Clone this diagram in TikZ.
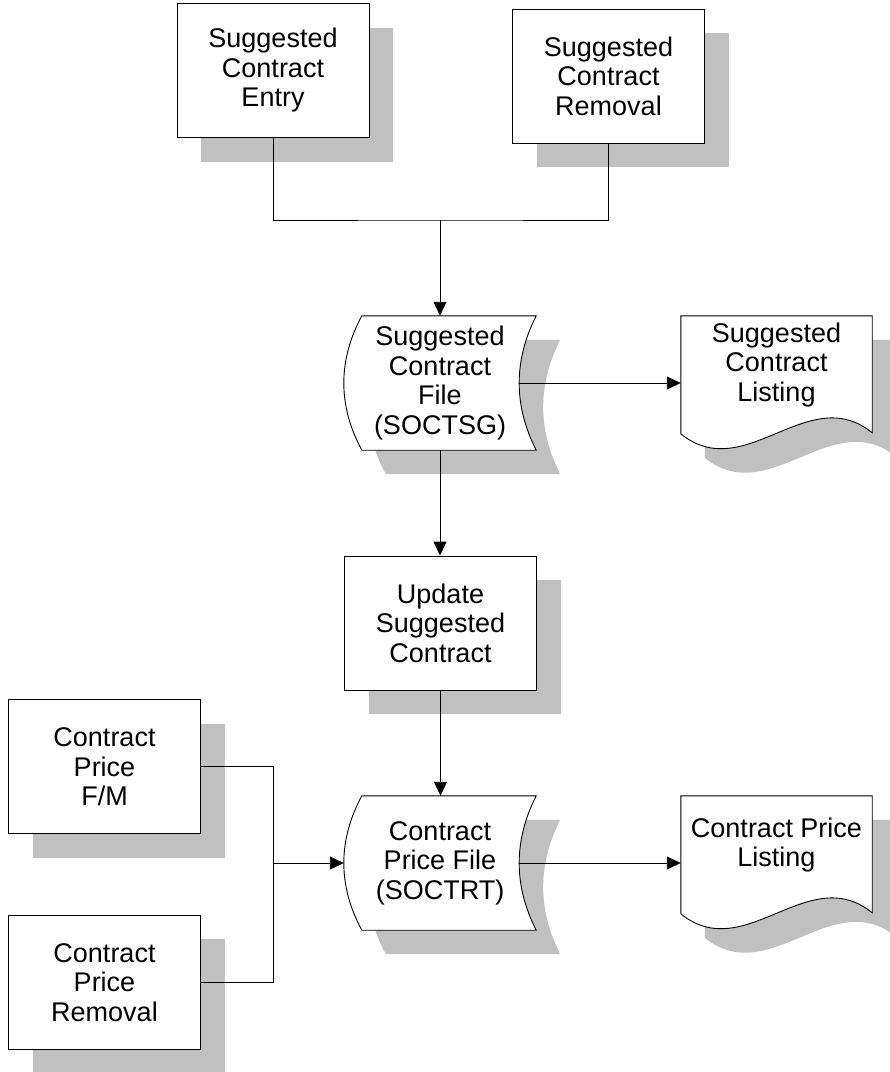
\documentclass[tikz,border=0pt]{standalone}
\usepackage{fontspec}
\setmainfont{Liberation Sans}
\usetikzlibrary{calc,arrows.meta,shadows,backgrounds}
\definecolor{shadowgray}{RGB}{192,192,192}
\tikzset{
  lbl/.style={inner sep=0pt, align=center, font=\fontsize{27}{29.5}\selectfont},
  box/.style={lbl, draw, fill=white, line width=0.9pt, minimum width=192pt, minimum height=134pt,
    drop shadow={shadow xshift=24pt, shadow yshift=-24pt, fill=shadowgray, opacity=1}},
  storebox/.style={lbl, minimum width=192pt, minimum height=134pt},
  docbox/.style={lbl, minimum width=191pt, minimum height=98pt},
  shp/.style={draw, fill=white, line width=0.9pt,
    preaction={draw=none, fill=shadowgray, transform canvas={shift={(24pt,-24pt)}}}},
  conn/.style={line width=0.9pt},
  arr/.style={conn, -{Triangle[length=14pt,width=13pt]}},
}
\begin{document}
\begin{tikzpicture}[x=1pt,y=-1pt]
\useasboundingbox (0,0) rectangle (890,1072);

% nodes
\node[box] (sce) at (273,70.5) {Suggested\\Contract\\Entry};
\node[box] (scr) at (608.5,76.3) {Suggested\\Contract\\Removal};
\node[storebox] (scf) at (440,383) {Suggested\\Contract\\File\\(SOCTSG)};
\node[docbox] (scl) at (776.5,365) {Suggested\\Contract\\Listing};
\node[box] (usc) at (440.5,623) {Update\\Suggested\\Contract};
\node[storebox] (cpf) at (440,863) {Contract\\Price File\\(SOCTRT)};
\node[docbox] (cpl) at (776.5,845) {Contract Price\\Listing};
\node[box] (cpm) at (104.5,766.7) {Contract\\Price\\F/M};
\node[box] (cpr) at (104.5,982.4) {Contract\\Price\\Removal};

% custom shapes behind the texts
\begin{scope}[on background layer]
  \foreach \n in {scf,cpf}{
    \path[shp] ($(\n.north west)+(18,0)$) -- (\n.north east)
      .. controls ($(\n.north east)+(-22.7,44.7)$) and ($(\n.south east)+(-22.7,-44.7)$) .. (\n.south east)
      -- ($(\n.south west)+(18,0)$)
      .. controls ($(\n.south west)+(-6,-44.7)$) and ($(\n.north west)+(-6,44.7)$) .. ($(\n.north west)+(18,0)$)
      -- cycle;
  }
  \foreach \n in {scl,cpl}{
    \path[shp] (\n.north west) -- (\n.north east) -- ($(\n.north east)+(0,117)$)
      .. controls ($(\n.north east)+(-64,65)$) and ($(\n.north west)+(64,170)$) .. ($(\n.north west)+(0,118)$)
      -- cycle;
  }
\end{scope}

% connectors
\coordinate (j1) at (440,220);
\draw[conn] (sce.south) |- (j1) -| (scr.south);
\draw[arr] (j1) -- (scf.north);
\coordinate (scfR) at ($(scf.east)+(-17,0)$);
\draw[arr] (scfR) -- (scfR -| scl.west);
\draw[arr] (scf.south) -- (scf.south |- usc.north);
\draw[arr] (usc.south) -- (usc.south |- cpf.north);
\coordinate (cpfR) at ($(cpf.east)+(-17,0)$);
\draw[arr] (cpfR) -- (cpfR -| cpl.west);
\coordinate (j2) at (273,863);
\draw[conn] (cpm.east) -| (j2);
\draw[conn] (cpr.east) -| (j2);
\draw[arr] (j2) -- (cpf.west);
\end{tikzpicture}
\end{document}
